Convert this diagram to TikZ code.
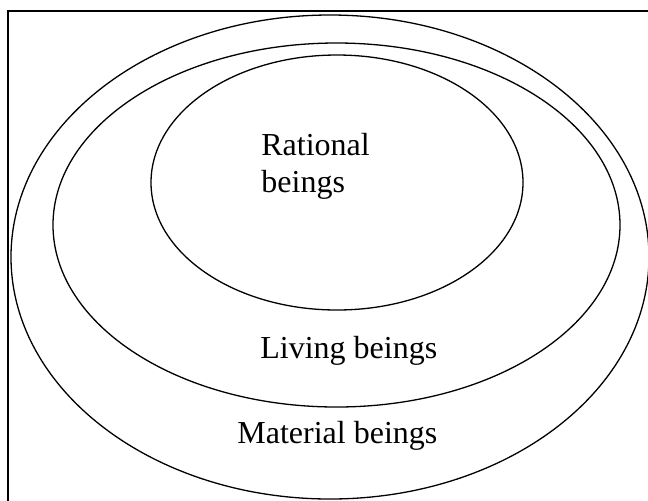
\documentclass[tikz,border=0pt]{standalone}
\usepackage{fontspec}
\setmainfont{Liberation Serif}
\usetikzlibrary{shapes.geometric}

\begin{document}
\begin{tikzpicture}[x=0.5pt, y=-0.5pt, set/.style = {draw, ellipse, line width=0.65pt, inner sep=0pt, outer sep=0pt}, label/.style = {font=\fontsize{16}{18.5}\selectfont, inner sep=0pt, align=left}]
			\useasboundingbox (0,0) rectangle (648,500);
			\clip (0,0) rectangle (648,500);
			\draw[line width=1pt] (8,11) rectangle (700,560);
			\node[set, minimum width=319pt, minimum height=242pt] (material) at (330,257) {};
			\node[set, minimum width=283.5pt, minimum height=182pt] (living) at (336.5,225) {};
			\node[set, minimum width=186pt, minimum height=127.5pt] (rational) at (337,182.5) {};
			\node[label, anchor=base west] (rationaltext) at (261,192) {Rational\\beings};
			\node[label, anchor=base west] (livingtext) at (260,358) {Living beings};
			\node[label, anchor=base west] (materialtext) at (237,443) {Material beings};
		\end{tikzpicture}
\end{document}
